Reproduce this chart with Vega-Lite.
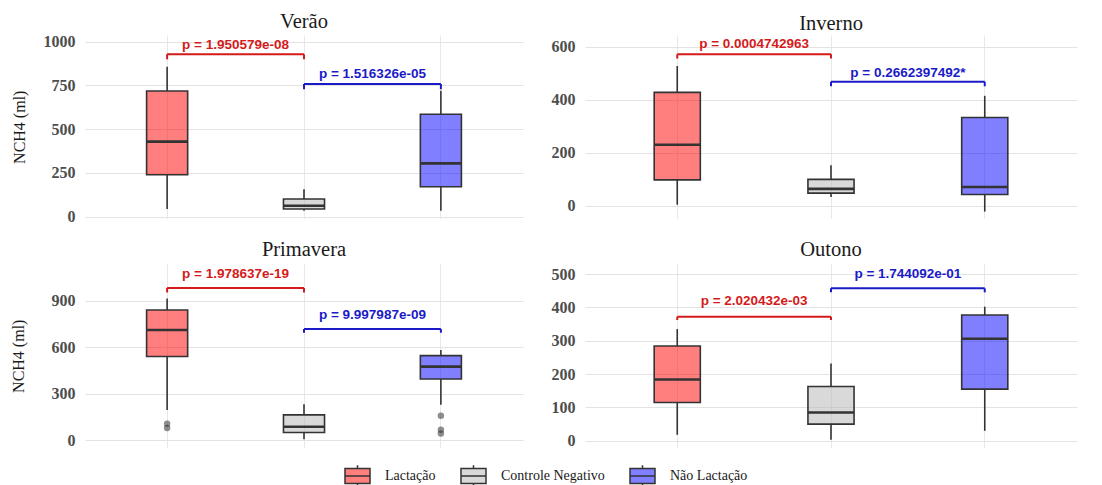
{
  "$schema": "https://vega.github.io/schema/vega-lite/v6.json",
  "padding": {"left": 10, "top": 12, "right": 10, "bottom": 5},
  "background": "white",
  "datasets": {
    "caixas": [
      {"estacao": "Verão", "grupo": "Lactação", "minimo": 44, "q1": 240, "mediana": 429, "q3": 718, "maximo": 857},
      {"estacao": "Verão", "grupo": "Controle Negativo", "minimo": 34, "q1": 44, "mediana": 63, "q3": 101, "maximo": 157},
      {"estacao": "Verão", "grupo": "Não Lactação", "minimo": 34, "q1": 171, "mediana": 305, "q3": 585, "maximo": 720},
      {"estacao": "Inverno", "grupo": "Lactação", "minimo": 3, "q1": 97, "mediana": 230, "q3": 428, "maximo": 528},
      {"estacao": "Inverno", "grupo": "Controle Negativo", "minimo": 32, "q1": 47, "mediana": 63, "q3": 99, "maximo": 152},
      {"estacao": "Inverno", "grupo": "Não Lactação", "minimo": -23, "q1": 42, "mediana": 70, "q3": 333, "maximo": 415},
      {"estacao": "Primavera", "grupo": "Lactação", "minimo": 194, "q1": 540, "mediana": 711, "q3": 840, "maximo": 915},
      {"estacao": "Primavera", "grupo": "Controle Negativo", "minimo": 6, "q1": 49, "mediana": 86, "q3": 163, "maximo": 232},
      {"estacao": "Primavera", "grupo": "Não Lactação", "minimo": 228, "q1": 394, "mediana": 474, "q3": 545, "maximo": 581},
      {"estacao": "Outono", "grupo": "Lactação", "minimo": 18, "q1": 115, "mediana": 184, "q3": 284, "maximo": 335},
      {"estacao": "Outono", "grupo": "Controle Negativo", "minimo": 3, "q1": 50, "mediana": 85, "q3": 163, "maximo": 232},
      {"estacao": "Outono", "grupo": "Não Lactação", "minimo": 30, "q1": 155, "mediana": 306, "q3": 377, "maximo": 402}
    ],
    "outliers": [
      {"estacao": "Primavera", "grupo": "Lactação", "valor": 105},
      {"estacao": "Primavera", "grupo": "Lactação", "valor": 78},
      {"estacao": "Primavera", "grupo": "Não Lactação", "valor": 157},
      {"estacao": "Primavera", "grupo": "Não Lactação", "valor": 66},
      {"estacao": "Primavera", "grupo": "Não Lactação", "valor": 43}
    ],
    "colchetes": [
      {"estacao": "Verão", "comparacao": "Lactação × Controle", "g1": "Lactação", "g2": "Controle Negativo", "y": 928, "ytick": 899, "ly": 981, "label": "p = 1.950579e-08"},
      {"estacao": "Verão", "comparacao": "Controle × Não Lactação", "g1": "Controle Negativo", "g2": "Não Lactação", "y": 758, "ytick": 728, "ly": 815, "label": "p = 1.516326e-05"},
      {"estacao": "Inverno", "comparacao": "Lactação × Controle", "g1": "Lactação", "g2": "Controle Negativo", "y": 572, "ytick": 556, "ly": 610, "label": "p = 0.0004742963"},
      {"estacao": "Inverno", "comparacao": "Controle × Não Lactação", "g1": "Controle Negativo", "g2": "Não Lactação", "y": 468, "ytick": 451, "ly": 502, "label": "p = 0.2662397492*"},
      {"estacao": "Primavera", "comparacao": "Lactação × Controle", "g1": "Lactação", "g2": "Controle Negativo", "y": 982, "ytick": 953, "ly": 1072, "label": "p = 1.978637e-19"},
      {"estacao": "Primavera", "comparacao": "Controle × Não Lactação", "g1": "Controle Negativo", "g2": "Não Lactação", "y": 717, "ytick": 693, "ly": 807, "label": "p = 9.997987e-09"},
      {"estacao": "Outono", "comparacao": "Lactação × Controle", "g1": "Lactação", "g2": "Controle Negativo", "y": 372, "ytick": 362, "ly": 419, "label": "p = 2.020432e-03"},
      {"estacao": "Outono", "comparacao": "Controle × Não Lactação", "g1": "Controle Negativo", "g2": "Não Lactação", "y": 457, "ytick": 445, "ly": 501, "label": "p = 1.744092e-01"}
    ]
  },
  "columns": 2,
  "align": "none",
  "spacing": {"row": 14, "column": 28},
  "concat": [
    {
      "width": 438, "height": 183.5, "title": "Verão",
      "resolve": {"axis": {"y": "independent"}},
      "layer": [
        {"data": {"name": "caixas"}, "transform": [{"filter": "datum.estacao === 'Verão'"}], "mark": {"type": "rule", "color": "#333333", "strokeWidth": 1.6},
         "encoding": {
           "x": {"field": "grupo", "type": "nominal", "title": null, "scale": {"type": "band", "domain": ["Lactação", "Controle Negativo", "Não Lactação"], "paddingInner": 0.7, "paddingOuter": 0.45}, "axis": {"labels": false, "ticks": false, "domain": false, "title": null, "grid": true, "gridColor": "#E8E8E8", "bandPosition": 0.5}},
           "y": {"field": "minimo", "type": "quantitative", "title": "NCH4 (ml)", "scale": {"domain": [-10, 1038], "nice": false, "zero": false}, "axis": {"values": [0, 250, 500, 750, 1000], "format": "d", "orient": "left", "gridColor": "#E3E3E3"}},
           "y2": {"field": "q1"}}},
        {"data": {"name": "caixas"}, "transform": [{"filter": "datum.estacao === 'Verão'"}], "mark": {"type": "rule", "color": "#333333", "strokeWidth": 1.6},
         "encoding": {"x": {"field": "grupo", "type": "nominal", "title": null}, "y": {"field": "q3", "type": "quantitative", "title": null, "axis": {"values": [125, 375, 625, 875], "orient": "left", "labels": false, "title": null, "gridColor": "#F2F2F2"}}, "y2": {"field": "maximo"}}},
        {"data": {"name": "caixas"}, "transform": [{"filter": "datum.estacao === 'Verão'"}], "mark": {"type": "bar", "stroke": "#333333", "strokeWidth": 1.6, "fillOpacity": 0.5},
         "encoding": {"x": {"field": "grupo", "type": "nominal", "title": null}, "y": {"field": "q1", "type": "quantitative", "axis": null}, "y2": {"field": "q3"},
           "fill": {"field": "grupo", "type": "nominal", "scale": {"domain": ["Lactação", "Controle Negativo", "Não Lactação"], "range": ["#FF0000", "#B3B3B3", "#0000FF"]},
             "legend": {"title": null, "orient": "none", "legendX": 259, "legendY": 427, "direction": "horizontal", "symbolType": "M-1,-0.6H1V0.6H-1Z M-1,0H1 M0,-0.6V-0.85 M0,0.6V0.85", "symbolSize": 625, "symbolStrokeColor": "#333333", "symbolStrokeWidth": 1.5, "labelFont": "Liberation Serif", "labelFontSize": 14, "labelColor": "#1A1A1A", "labelOffset": 14, "columnPadding": 22, "encode": {"symbols": {"update": {"fillOpacity": {"value": 0.5}}}}}}}},
        {"data": {"name": "caixas"}, "transform": [{"filter": "datum.estacao === 'Verão'"}], "mark": {"type": "bar", "stroke": "#333333", "strokeWidth": 2.6, "fillOpacity": 0},
         "encoding": {"x": {"field": "grupo", "type": "nominal", "title": null}, "y": {"field": "mediana", "type": "quantitative", "axis": null}, "y2": {"field": "mediana"}}},
        {"data": {"name": "colchetes"}, "transform": [{"filter": "datum.estacao === 'Verão'"}], "mark": {"type": "rule", "strokeWidth": 2},
         "encoding": {"x": {"field": "g1", "type": "nominal", "title": null, "bandPosition": 0.5}, "x2": {"field": "g2", "bandPosition": 0.5}, "y": {"field": "y", "type": "quantitative", "axis": null},
           "color": {"field": "comparacao", "type": "nominal", "scale": {"domain": ["Lactação × Controle", "Controle × Não Lactação"], "range": ["#D41A1A", "#1A1AC8"]}, "legend": null}}},
        {"data": {"name": "colchetes"}, "transform": [{"filter": "datum.estacao === 'Verão'"}], "mark": {"type": "rule", "strokeWidth": 2},
         "encoding": {"x": {"field": "g1", "type": "nominal", "title": null}, "y": {"field": "ytick", "type": "quantitative", "axis": null}, "y2": {"field": "y"}, "color": {"field": "comparacao", "type": "nominal", "legend": null}}},
        {"data": {"name": "colchetes"}, "transform": [{"filter": "datum.estacao === 'Verão'"}], "mark": {"type": "rule", "strokeWidth": 2},
         "encoding": {"x": {"field": "g2", "type": "nominal", "title": null}, "y": {"field": "ytick", "type": "quantitative", "axis": null}, "y2": {"field": "y"}, "color": {"field": "comparacao", "type": "nominal", "legend": null}}},
        {"data": {"name": "colchetes"}, "transform": [{"filter": "datum.estacao === 'Verão'"}], "mark": {"type": "text", "baseline": "middle", "align": "center"},
         "encoding": {"x": {"field": "g1", "type": "nominal", "title": null, "bandPosition": 2.1667}, "y": {"field": "ly", "type": "quantitative", "axis": null}, "text": {"field": "label"}, "color": {"field": "comparacao", "type": "nominal", "legend": null}}}
      ]
    },
    {
      "width": 492, "height": 183.5, "title": "Inverno",
      "resolve": {"axis": {"y": "independent"}},
      "layer": [
        {"data": {"name": "caixas"}, "transform": [{"filter": "datum.estacao === 'Inverno'"}], "mark": {"type": "rule", "color": "#333333", "strokeWidth": 1.6},
         "encoding": {
           "x": {"field": "grupo", "type": "nominal", "title": null, "scale": {"type": "band", "domain": ["Lactação", "Controle Negativo", "Não Lactação"], "paddingInner": 0.7, "paddingOuter": 0.45}, "axis": {"labels": false, "ticks": false, "domain": false, "title": null, "grid": true, "gridColor": "#E8E8E8", "bandPosition": 0.5}},
           "y": {"field": "minimo", "type": "quantitative", "title": null, "scale": {"domain": [-49, 645], "nice": false, "zero": false}, "axis": {"values": [0, 200, 400, 600], "format": "d", "orient": "left", "gridColor": "#E3E3E3"}},
           "y2": {"field": "q1"}}},
        {"data": {"name": "caixas"}, "transform": [{"filter": "datum.estacao === 'Inverno'"}], "mark": {"type": "rule", "color": "#333333", "strokeWidth": 1.6},
         "encoding": {"x": {"field": "grupo", "type": "nominal", "title": null}, "y": {"field": "q3", "type": "quantitative", "title": null, "axis": {"values": [100, 300, 500], "orient": "left", "labels": false, "title": null, "gridColor": "#F2F2F2"}}, "y2": {"field": "maximo"}}},
        {"data": {"name": "caixas"}, "transform": [{"filter": "datum.estacao === 'Inverno'"}], "mark": {"type": "bar", "stroke": "#333333", "strokeWidth": 1.6, "fillOpacity": 0.5},
         "encoding": {"x": {"field": "grupo", "type": "nominal", "title": null}, "y": {"field": "q1", "type": "quantitative", "axis": null}, "y2": {"field": "q3"},
           "fill": {"field": "grupo", "type": "nominal"}}},
        {"data": {"name": "caixas"}, "transform": [{"filter": "datum.estacao === 'Inverno'"}], "mark": {"type": "bar", "stroke": "#333333", "strokeWidth": 2.6, "fillOpacity": 0},
         "encoding": {"x": {"field": "grupo", "type": "nominal", "title": null}, "y": {"field": "mediana", "type": "quantitative", "axis": null}, "y2": {"field": "mediana"}}},
        {"data": {"name": "colchetes"}, "transform": [{"filter": "datum.estacao === 'Inverno'"}], "mark": {"type": "rule", "strokeWidth": 2},
         "encoding": {"x": {"field": "g1", "type": "nominal", "title": null, "bandPosition": 0.5}, "x2": {"field": "g2", "bandPosition": 0.5}, "y": {"field": "y", "type": "quantitative", "axis": null}, "color": {"field": "comparacao", "type": "nominal", "legend": null}}},
        {"data": {"name": "colchetes"}, "transform": [{"filter": "datum.estacao === 'Inverno'"}], "mark": {"type": "rule", "strokeWidth": 2},
         "encoding": {"x": {"field": "g1", "type": "nominal", "title": null}, "y": {"field": "ytick", "type": "quantitative", "axis": null}, "y2": {"field": "y"}, "color": {"field": "comparacao", "type": "nominal", "legend": null}}},
        {"data": {"name": "colchetes"}, "transform": [{"filter": "datum.estacao === 'Inverno'"}], "mark": {"type": "rule", "strokeWidth": 2},
         "encoding": {"x": {"field": "g2", "type": "nominal", "title": null}, "y": {"field": "ytick", "type": "quantitative", "axis": null}, "y2": {"field": "y"}, "color": {"field": "comparacao", "type": "nominal", "legend": null}}},
        {"data": {"name": "colchetes"}, "transform": [{"filter": "datum.estacao === 'Inverno'"}], "mark": {"type": "text", "baseline": "middle", "align": "center"},
         "encoding": {"x": {"field": "g1", "type": "nominal", "title": null, "bandPosition": 2.1667}, "y": {"field": "ly", "type": "quantitative", "axis": null}, "text": {"field": "label"}, "color": {"field": "comparacao", "type": "nominal", "legend": null}}}
      ]
    },
    {
      "width": 438, "height": 183.5, "title": {"text": "Primavera", "offset": 4},
      "resolve": {"axis": {"y": "independent"}},
      "layer": [
        {"data": {"name": "caixas"}, "transform": [{"filter": "datum.estacao === 'Primavera'"}], "mark": {"type": "rule", "color": "#333333", "strokeWidth": 1.6},
         "encoding": {
           "x": {"field": "grupo", "type": "nominal", "title": null, "scale": {"type": "band", "domain": ["Lactação", "Controle Negativo", "Não Lactação"], "paddingInner": 0.7, "paddingOuter": 0.45}, "axis": {"labels": false, "ticks": false, "domain": false, "title": null, "grid": true, "gridColor": "#E8E8E8", "bandPosition": 0.5}},
           "y": {"field": "minimo", "type": "quantitative", "title": "NCH4 (ml)", "scale": {"domain": [-48, 1137], "nice": false, "zero": false}, "axis": {"values": [0, 300, 600, 900], "format": "d", "orient": "left", "gridColor": "#E3E3E3", "titlePadding": 25}},
           "y2": {"field": "q1"}}},
        {"data": {"name": "caixas"}, "transform": [{"filter": "datum.estacao === 'Primavera'"}], "mark": {"type": "rule", "color": "#333333", "strokeWidth": 1.6},
         "encoding": {"x": {"field": "grupo", "type": "nominal", "title": null}, "y": {"field": "q3", "type": "quantitative", "title": null, "axis": {"values": [150, 450, 750, 1050], "orient": "left", "labels": false, "title": null, "gridColor": "#F2F2F2"}}, "y2": {"field": "maximo"}}},
        {"data": {"name": "caixas"}, "transform": [{"filter": "datum.estacao === 'Primavera'"}], "mark": {"type": "bar", "stroke": "#333333", "strokeWidth": 1.6, "fillOpacity": 0.5},
         "encoding": {"x": {"field": "grupo", "type": "nominal", "title": null}, "y": {"field": "q1", "type": "quantitative", "axis": null}, "y2": {"field": "q3"},
           "fill": {"field": "grupo", "type": "nominal"}}},
        {"data": {"name": "caixas"}, "transform": [{"filter": "datum.estacao === 'Primavera'"}], "mark": {"type": "bar", "stroke": "#333333", "strokeWidth": 2.6, "fillOpacity": 0},
         "encoding": {"x": {"field": "grupo", "type": "nominal", "title": null}, "y": {"field": "mediana", "type": "quantitative", "axis": null}, "y2": {"field": "mediana"}}},
        {"data": {"name": "outliers"}, "transform": [{"filter": "datum.estacao === 'Primavera'"}], "mark": {"type": "circle", "color": "#333333", "opacity": 0.55, "size": 42},
         "encoding": {"x": {"field": "grupo", "type": "nominal", "title": null}, "y": {"field": "valor", "type": "quantitative", "axis": null}}},
        {"data": {"name": "colchetes"}, "transform": [{"filter": "datum.estacao === 'Primavera'"}], "mark": {"type": "rule", "strokeWidth": 2},
         "encoding": {"x": {"field": "g1", "type": "nominal", "title": null, "bandPosition": 0.5}, "x2": {"field": "g2", "bandPosition": 0.5}, "y": {"field": "y", "type": "quantitative", "axis": null}, "color": {"field": "comparacao", "type": "nominal", "legend": null}}},
        {"data": {"name": "colchetes"}, "transform": [{"filter": "datum.estacao === 'Primavera'"}], "mark": {"type": "rule", "strokeWidth": 2},
         "encoding": {"x": {"field": "g1", "type": "nominal", "title": null}, "y": {"field": "ytick", "type": "quantitative", "axis": null}, "y2": {"field": "y"}, "color": {"field": "comparacao", "type": "nominal", "legend": null}}},
        {"data": {"name": "colchetes"}, "transform": [{"filter": "datum.estacao === 'Primavera'"}], "mark": {"type": "rule", "strokeWidth": 2},
         "encoding": {"x": {"field": "g2", "type": "nominal", "title": null}, "y": {"field": "ytick", "type": "quantitative", "axis": null}, "y2": {"field": "y"}, "color": {"field": "comparacao", "type": "nominal", "legend": null}}},
        {"data": {"name": "colchetes"}, "transform": [{"filter": "datum.estacao === 'Primavera'"}], "mark": {"type": "text", "baseline": "middle", "align": "center"},
         "encoding": {"x": {"field": "g1", "type": "nominal", "title": null, "bandPosition": 2.1667}, "y": {"field": "ly", "type": "quantitative", "axis": null}, "text": {"field": "label"}, "color": {"field": "comparacao", "type": "nominal", "legend": null}}}
      ]
    },
    {
      "width": 492, "height": 183.5, "title": {"text": "Outono", "offset": 4},
      "resolve": {"axis": {"y": "independent"}},
      "layer": [
        {"data": {"name": "caixas"}, "transform": [{"filter": "datum.estacao === 'Outono'"}], "mark": {"type": "rule", "color": "#333333", "strokeWidth": 1.6},
         "encoding": {
           "x": {"field": "grupo", "type": "nominal", "title": null, "scale": {"type": "band", "domain": ["Lactação", "Controle Negativo", "Não Lactação"], "paddingInner": 0.7, "paddingOuter": 0.45}, "axis": {"labels": false, "ticks": false, "domain": false, "title": null, "grid": true, "gridColor": "#E8E8E8", "bandPosition": 0.5}},
           "y": {"field": "minimo", "type": "quantitative", "title": null, "scale": {"domain": [-20, 530], "nice": false, "zero": false}, "axis": {"values": [0, 100, 200, 300, 400, 500], "format": "d", "orient": "left", "labelOverlap": false, "gridColor": "#E3E3E3"}},
           "y2": {"field": "q1"}}},
        {"data": {"name": "caixas"}, "transform": [{"filter": "datum.estacao === 'Outono'"}], "mark": {"type": "rule", "color": "#333333", "strokeWidth": 1.6},
         "encoding": {"x": {"field": "grupo", "type": "nominal", "title": null}, "y": {"field": "q3", "type": "quantitative", "title": null, "axis": {"values": [50, 150, 250, 350, 450], "orient": "left", "labels": false, "title": null, "gridColor": "#F2F2F2"}}, "y2": {"field": "maximo"}}},
        {"data": {"name": "caixas"}, "transform": [{"filter": "datum.estacao === 'Outono'"}], "mark": {"type": "bar", "stroke": "#333333", "strokeWidth": 1.6, "fillOpacity": 0.5},
         "encoding": {"x": {"field": "grupo", "type": "nominal", "title": null}, "y": {"field": "q1", "type": "quantitative", "axis": null}, "y2": {"field": "q3"},
           "fill": {"field": "grupo", "type": "nominal"}}},
        {"data": {"name": "caixas"}, "transform": [{"filter": "datum.estacao === 'Outono'"}], "mark": {"type": "bar", "stroke": "#333333", "strokeWidth": 2.6, "fillOpacity": 0},
         "encoding": {"x": {"field": "grupo", "type": "nominal", "title": null}, "y": {"field": "mediana", "type": "quantitative", "axis": null}, "y2": {"field": "mediana"}}},
        {"data": {"name": "colchetes"}, "transform": [{"filter": "datum.estacao === 'Outono'"}], "mark": {"type": "rule", "strokeWidth": 2},
         "encoding": {"x": {"field": "g1", "type": "nominal", "title": null, "bandPosition": 0.5}, "x2": {"field": "g2", "bandPosition": 0.5}, "y": {"field": "y", "type": "quantitative", "axis": null}, "color": {"field": "comparacao", "type": "nominal", "legend": null}}},
        {"data": {"name": "colchetes"}, "transform": [{"filter": "datum.estacao === 'Outono'"}], "mark": {"type": "rule", "strokeWidth": 2},
         "encoding": {"x": {"field": "g1", "type": "nominal", "title": null}, "y": {"field": "ytick", "type": "quantitative", "axis": null}, "y2": {"field": "y"}, "color": {"field": "comparacao", "type": "nominal", "legend": null}}},
        {"data": {"name": "colchetes"}, "transform": [{"filter": "datum.estacao === 'Outono'"}], "mark": {"type": "rule", "strokeWidth": 2},
         "encoding": {"x": {"field": "g2", "type": "nominal", "title": null}, "y": {"field": "ytick", "type": "quantitative", "axis": null}, "y2": {"field": "y"}, "color": {"field": "comparacao", "type": "nominal", "legend": null}}},
        {"data": {"name": "colchetes"}, "transform": [{"filter": "datum.estacao === 'Outono'"}], "mark": {"type": "text", "baseline": "middle", "align": "center"},
         "encoding": {"x": {"field": "g1", "type": "nominal", "title": null, "bandPosition": 2.1667}, "y": {"field": "ly", "type": "quantitative", "axis": null}, "text": {"field": "label"}, "color": {"field": "comparacao", "type": "nominal", "legend": null}}}
      ]
    }
  ],
  "config": {
    "view": {"stroke": null},
    "axis": {"ticks": false, "domain": false, "labelOverlap": false},
    "axisY": {"labelFont": "Liberation Serif", "labelFontWeight": "bold", "labelFontSize": 16, "labelColor": "#4D4D4D", "labelPadding": 10, "titleFont": "Liberation Serif", "titleFontWeight": "normal", "titleFontSize": 16, "titleColor": "#1A1A1A", "titlePadding": 16, "gridWidth": 1.2},
    "title": {"font": "Liberation Serif", "fontSize": 20.5, "fontWeight": "normal", "color": "#1A1A1A", "anchor": "middle", "offset": 1},
    "text": {"font": "Liberation Sans", "fontWeight": "bold", "fontSize": 13.5}
  }
}
